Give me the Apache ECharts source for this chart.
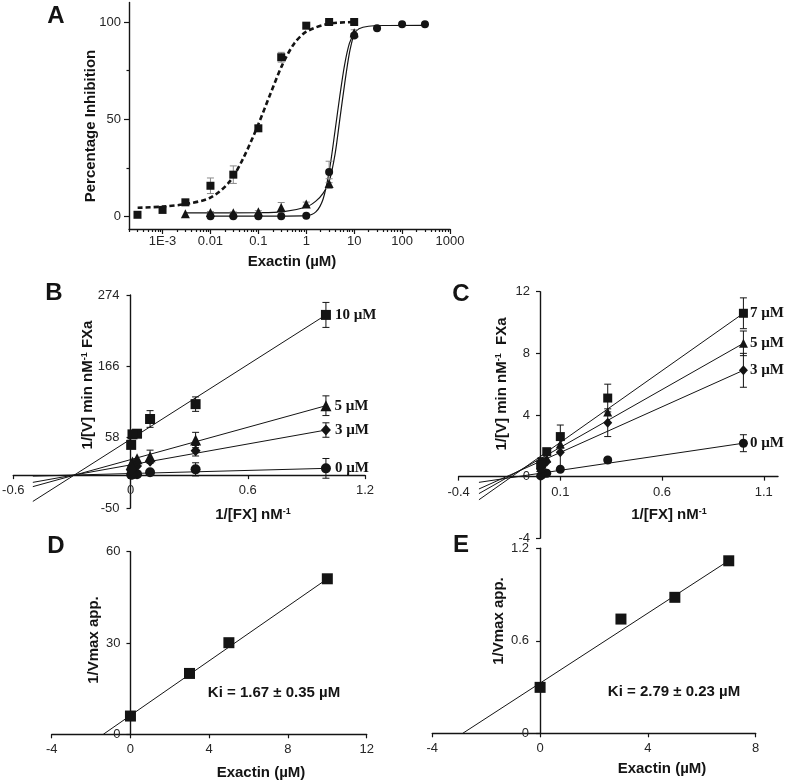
<!DOCTYPE html>
<html><head><meta charset="utf-8">
<script src="https://cdn.jsdelivr.net/npm/echarts@6/dist/echarts.min.js"></script>
<style>html,body{margin:0;padding:0;background:#fff}#c{width:787px;height:783px}</style>
</head><body><div id="c"></div>
<script>
// ---------- Panel A (dose response) ----------
const aSqConc = [0.0003, 0.001, 0.003, 0.01, 0.03, 0.1, 0.3, 1, 3, 10];
const aSqVal  = [1.0, 3.5, 7.4, 15.9, 21.6, 45.4, 81.9, 98.1, 100, 100];
const aSqErr  = [0, 0.6, 0.8, 4.0, 4.5, 1.5, 2.5, 1.0, 0.5, 0.8];
const aTriConc = [0.003, 0.01, 0.03, 0.1, 0.3, 1, 3, 10];
const aTriVal  = [1.5, 2.2, 2.0, 2.5, 4.8, 6.5, 17.0, 94.5];
const aTriErr  = [0, 0.5, 0.5, 0.6, 2.5, 1.0, 2.5, 1.5];
const aCirConc = [0.01, 0.03, 0.1, 0.3, 1, 3, 10, 30, 100, 300];
const aCirVal  = [0.3, 0.3, 0.3, 0.3, 0.5, 23.0, 93.0, 96.8, 98.8, 98.8];
const aCirErr  = [0, 0, 0, 0, 0.4, 5.5, 1.0, 0.5, 0.5, 0.5];
// fitted curves (x as log10 concentration)
const aFitSqLog = [-3.52, -3, -2.5, -2, -1.6, -1.3, -1.0, -0.75, -0.5, -0.25, 0, 0.45, 1.0];
const aFitSqVal = [4.6, 5.2, 6.6, 9.8, 18.0, 30.8, 47.5, 63, 78, 89, 95.0, 99, 100];
const aFitCirLog = [-2, -1, 0, 0.2, 0.35, 0.477, 0.6, 0.7, 0.8, 0.9, 1.0, 1.1, 1.3, 1.6, 2.48];
const aFitCirVal = [0.3, 0.3, 0.6, 2.5, 9, 23, 44, 62, 78, 89, 94, 96.5, 97.8, 98.2, 98.3];
const aFitTriLog = [-2.52, -1, -0.5, 0, 0.2, 0.35, 0.477, 0.6, 0.7, 0.8, 0.9, 1.0];
const aFitTriVal = [2, 2.1, 2.5, 5, 8, 12, 18, 32, 50, 68, 84, 94.5];
const aTickLog = [-3, -2, -1, 0, 1, 2, 3];
const aTickLabels = ['1E-3', '0.01', '0.1', '1', '10', '100', '1000'];
const aYTicks = [0, 50, 100];
const aYMinor = [25, 75];

// ---------- Panel B ----------
const bInvFX = [1, 0.333, 0.1, 0.0333, 0.01, 0.00333];
const b10 = [243.7, 108, 85.4, 63, 62, 46];
const b10Err = [19, 11, 12.7, 0, 0, 0];
const b5 = [105.6, 53.4, 28, 25, 20, 16];
const b5Err = [15, 11.7, 10, 0, 0, 0];
const b3 = [68.6, 37.1, 21, 14, 10, 7];
const b3Err = [11, 8, 0, 0, 0, 0];
const b0 = [10.3, 8.8, 4.3, 1.5, 1, 0.5];
const b0Err = [15, 10, 0, 0, 0, 0];
const bFitX = [-0.5, 1];
const bFit10 = [-40, 243.7];
const bFit5 = [-17.5, 105.6];
const bFit3 = [-11, 68.6];
const bFit0 = [-1.5, 10.3];
const bXTicks = [-0.6, 0, 0.6, 1.2];
const bYTicks = [-50, 58, 166, 274];

// ---------- Panel C ----------
const cInvFX = [1, 0.333, 0.1, 0.0333, 0.01, 0.00333];
const c7 = [10.6, 5.1, 2.6, 1.62, 0.97, 0.76];
const c7Err = [1.0, 0.9, 0.75, 0, 0, 0];
const c5 = [8.65, 4.2, 2.12, 1.19, 0.8, 0.6];
const c5Err = [0.8, 0, 0, 0, 0, 0];
const c3 = [6.9, 3.5, 1.58, 0.97, 0.65, 0.5];
const c3Err = [1.1, 0.9, 1.2, 0, 0, 0];
const c0 = [2.17, 1.08, 0.48, 0.22, 0.12, 0.05];
const c0Err = [0.55, 0.15, 0, 0, 0, 0];
const cFitX = [-0.3, 1];
const cFit7 = [-1.5, 10.6];
const cFit5 = [-1.1, 8.65];
const cFit3 = [-0.8, 6.9];
const cFit0 = [-0.37, 2.17];
const cXTicks = [-0.4, 0.1, 0.6, 1.1];
const cYTicks = [-4, 0, 4, 8, 12];

// ---------- Panel D ----------
const dConc = [0, 3, 5, 10];
const dVal = [6.0, 20.0, 30.1, 51.1];
const dFitX = [-1.38, 10];
const dFitY = [0, 51.1];
const dXTicks = [-4, 0, 4, 8, 12];
const dYTicks = [0, 30, 60];

// ---------- Panel E ----------
const eConc = [0, 3, 5, 7];
const eVal = [0.298, 0.741, 0.882, 1.119];
const eFitX = [-2.87, 7];
const eFitY = [0, 1.12];
const eXTicks = [-4, 0, 4, 8];
const eYTicks = [0, 0.6, 1.2];

// ---------- helpers ----------
const FONT = '"Liberation Sans", Arial, Helvetica, sans-serif';
const SERIF = '"Liberation Serif", "Times New Roman", serif';
const INK = '#141414';
const lg = v => Math.log10(v);

function pts(xs, ys, tx) { return xs.map((x, i) => [tx ? tx(x) : x, ys[i]]); }
function errs(xs, ys, es, tx) {
  const out = [];
  xs.forEach((x, i) => { if (es[i] > 0) out.push([tx ? tx(x) : x, ys[i] - es[i], ys[i] + es[i]]); });
  return out;
}

const gridBoxes = [
  { left: 129, top: 2.5, width: 321, height: 226.5 },
  { left: 13.3, top: 295, width: 351.7, height: 213 },
  { left: 458.6, top: 291.7, width: 319.4, height: 246.6 },
  { left: 51.7, top: 551.7, width: 315, height: 182.6 },
  { left: 432.3, top: 548.3, width: 323.4, height: 185 }
];
const grids = gridBoxes.map(g => Object.assign({ containLabel: false, outerBoundsMode: 'none' }, g));

// axis crossing the other one at zero: shift inward by the zero position
function zeroOffset(min, max, span) { return (min < 0 && max > 0) ? -span * (0 - min) / (max - min) : 0; }

function axis(grid, min, max, ticks, o) {
  o = o || {};
  const a = {
    type: 'value', gridIndex: grid, min: min, max: max,
    position: o.position, offset: o.offset || 0,
    splitLine: { show: false },
    axisLine: { show: o.line !== false, onZero: false, lineStyle: { color: INK, width: 1.4 } },
    axisTick: { show: true, inside: false, length: o.tickLen || 4, customValues: ticks, lineStyle: { color: INK, width: 1.2 } },
    axisLabel: { show: o.labels !== false, customValues: ticks, margin: o.margin != null ? o.margin : 8,
      color: '#262626', fontSize: 13, fontFamily: FONT }
  };
  if (o.formatter) a.axisLabel.formatter = o.formatter;
  return a;
}
function xAx(grid, min, max, ticks, yMin, yMax, o) {
  o = Object.assign({ position: 'bottom' }, o || {});
  if (o.offset == null) o.offset = zeroOffset(yMin, yMax, gridBoxes[grid].height);
  return axis(grid, min, max, ticks, o);
}
function yAx(grid, min, max, ticks, xMin, xMax, o) {
  o = Object.assign({ position: 'left' }, o || {});
  if (o.offset == null) o.offset = zeroOffset(xMin, xMax, gridBoxes[grid].width);
  return axis(grid, min, max, ticks, o);
}
function scatter(xi, yi, data, symbol, size, label, labelDist) {
  const s = { type: 'scatter', xAxisIndex: xi, yAxisIndex: yi, data: data, symbol: symbol, symbolSize: size,
    itemStyle: { color: INK, opacity: 1 }, z: 4, silent: true, clip: false };
  if (label) {
    s.label = { show: true, position: 'right', distance: labelDist, color: INK,
      fontFamily: SERIF, fontWeight: 'bold', fontSize: 15,
      formatter: p => p.dataIndex === 0 ? label : '' };
  }
  return s;
}
function line(xi, yi, data, o) {
  o = o || {};
  return { type: 'line', xAxisIndex: xi, yAxisIndex: yi, data: data, symbol: 'none', showSymbol: false,
    smooth: o.smooth || false, silent: true, z: 2,
    lineStyle: { color: INK, width: o.width || 1, type: o.dash || 'solid' } };
}
function errSeries(xi, yi, data, color, cap) {
  return { type: 'custom', xAxisIndex: xi, yAxisIndex: yi, data: data, silent: true, z: 3,
    encode: { x: 0, y: [1, 2] },
    renderItem: function (params, api) {
      const x = api.value(0), lo = api.value(1), hi = api.value(2);
      const p1 = api.coord([x, hi]), p2 = api.coord([x, lo]);
      const st = { stroke: color, lineWidth: 1, fill: null };
      return { type: 'group', children: [
        { type: 'line', shape: { x1: p1[0], y1: p1[1], x2: p2[0], y2: p2[1] }, style: st },
        { type: 'line', shape: { x1: p1[0] - cap, y1: p1[1], x2: p1[0] + cap, y2: p1[1] }, style: st },
        { type: 'line', shape: { x1: p2[0] - cap, y1: p2[1], x2: p2[0] + cap, y2: p2[1] }, style: st }
      ] };
    } };
}
function txt(x, y, text, size, o) {
  o = o || {};
  const e = { type: 'text', x: x, y: y, silent: true, z: 10,
    style: { text: text, fill: INK, fontFamily: FONT, fontWeight: 'bold', fontSize: size,
      align: 'center', verticalAlign: 'middle' } };
  if (o.rot) e.rotation = Math.PI / 2;
  if (o.rich) e.style.rich = { s: { fontFamily: FONT, fontWeight: 'bold', fontSize: 9, fill: INK, verticalAlign: 'top', lineHeight: 15 },
                              n: { fontFamily: FONT, fontWeight: 'bold', fontSize: 15, fill: INK, lineHeight: 15 } };
  return e;
}

// minor log ticks for panel A
const aMinorLog = [];
for (let k = -4; k <= 2; k++) for (let m = 2; m <= 9; m++) {
  const v = Math.log10(m * Math.pow(10, k));
  if (v > -3.7 && v < 3) aMinorLog.push(v);
}

const xAxes = [
  axis(0, -3.7, 3, aTickLog, { position: 'bottom', margin: 6, tickLen: 5,
    formatter: v => aTickLabels[aTickLog.indexOf(Math.round(v))] }),
  axis(0, -3.7, 3, aMinorLog, { position: 'bottom', line: false, labels: false, tickLen: 3 }),
  xAx(1, -0.6, 1.2, bXTicks, -50, 274, { margin: 9 }),
  xAx(2, -0.4, 1.17, cXTicks, -4, 12, { margin: 9 }),
  xAx(3, -4, 12, dXTicks, 0, 60, { margin: 9 }),
  xAx(4, -4, 8, eXTicks, 0, 1.2, { margin: 9 })
];
const yAxes = [
  axis(0, -6.3, 110, aYTicks, { position: 'left', margin: 8, tickLen: 5 }),
  axis(0, -6.3, 110, aYMinor, { position: 'left', line: false, labels: false, tickLen: 2.5 }),
  yAx(1, -50, 274, bYTicks, -0.6, 1.2, { margin: 11 }),
  yAx(2, -4, 12, cYTicks, -0.4, 1.17, { margin: 10 }),
  yAx(3, 0, 60, dYTicks, -4, 12, { margin: 10 }),
  yAx(4, 0, 1.2, eYTicks, -4, 8, { margin: 11 })
];

const series = [
  // A
  errSeries(0, 0, errs(aSqConc, aSqVal, aSqErr, lg), '#8a8a8a', 3.5),
  errSeries(0, 0, errs(aTriConc, aTriVal, aTriErr, lg), '#8a8a8a', 3.5),
  errSeries(0, 0, errs(aCirConc, aCirVal, aCirErr, lg), '#8a8a8a', 3.5),
  line(0, 0, pts(aFitSqLog, aFitSqVal), { dash: [5, 3], width: 2.6, smooth: 0.3 }),
  line(0, 0, pts(aFitTriLog, aFitTriVal), { width: 1.2, smooth: 0.3 }),
  line(0, 0, pts(aFitCirLog, aFitCirVal), { width: 1.2, smooth: 0.3 }),
  scatter(0, 0, pts(aSqConc, aSqVal, lg), 'rect', 8),
  scatter(0, 0, pts(aTriConc, aTriVal, lg), 'triangle', 9),
  scatter(0, 0, pts(aCirConc, aCirVal, lg), 'circle', 8),
  // B
  line(2, 2, pts(bFitX, bFit10)), line(2, 2, pts(bFitX, bFit5)),
  line(2, 2, pts(bFitX, bFit3)), line(2, 2, pts(bFitX, bFit0)),
  errSeries(2, 2, errs(bInvFX, b10, b10Err), INK, 3.5),
  errSeries(2, 2, errs(bInvFX, b5, b5Err), INK, 3.5),
  errSeries(2, 2, errs(bInvFX, b3, b3Err), INK, 3.5),
  errSeries(2, 2, errs(bInvFX, b0, b0Err), INK, 3.5),
  scatter(2, 2, pts(bInvFX, b0), 'circle', 10, '0 µM', 4),
  scatter(2, 2, pts(bInvFX, b3), 'diamond', [10, 11], '3 µM', 4),
  scatter(2, 2, pts(bInvFX, b5), 'triangle', 11, '5 µM', 3),
  scatter(2, 2, pts(bInvFX, b10), 'rect', 10, '10 µM', 4),
  // C
  line(3, 3, pts(cFitX, cFit7)), line(3, 3, pts(cFitX, cFit5)),
  line(3, 3, pts(cFitX, cFit3)), line(3, 3, pts(cFitX, cFit0)),
  errSeries(3, 3, errs(cInvFX, c7, c7Err), INK, 3.5),
  errSeries(3, 3, errs(cInvFX, c5, c5Err), INK, 3.5),
  errSeries(3, 3, errs(cInvFX, c3, c3Err), INK, 3.5),
  errSeries(3, 3, errs(cInvFX, c0, c0Err), INK, 3.5),
  scatter(3, 3, pts(cInvFX, c0), 'circle', 9, '0 µM', 2),
  scatter(3, 3, pts(cInvFX, c3), 'diamond', [9, 10], '3 µM', 2),
  scatter(3, 3, pts(cInvFX, c5), 'triangle', 9, '5 µM', 2),
  scatter(3, 3, pts(cInvFX, c7), 'rect', 9, '7 µM', 2),
  // D
  line(4, 4, pts(dFitX, dFitY)),
  scatter(4, 4, pts(dConc, dVal), 'rect', 11),
  // E
  line(5, 5, pts(eFitX, eFitY)),
  scatter(5, 5, pts(eConc, eVal), 'rect', 11)
];

const graphic = [
  txt(56, 16, 'A', 24), txt(54, 293, 'B', 24), txt(461, 294, 'C', 24),
  txt(56, 546, 'D', 24), txt(461, 545, 'E', 24),
  txt(91, 126, 'Percentage Inhibition', 15, { rot: true }),
  txt(292, 261.5, 'Exactin (µM)', 15),
  txt(87.5, 385, '{n|1/[V] min nM}{s|-1}{n| FXa}', 15, { rot: true, rich: true }),
  txt(253, 515, '{n|1/[FX] nM}{s|-1}', 15, { rich: true }),
  txt(501.5, 384, '{n|1/[V] min nM}{s|-1}{n|  FXa}', 15, { rot: true, rich: true }),
  txt(669, 515, '{n|1/[FX] nM}{s|-1}', 15, { rich: true }),
  txt(94, 640, '1/Vmax app.', 15, { rot: true }),
  txt(261, 773, 'Exactin (µM)', 15),
  txt(499, 621, '1/Vmax app.', 15, { rot: true }),
  txt(662, 769, 'Exactin (µM)', 15),
  txt(274, 693, 'Ki = 1.67 ± 0.35 µM', 15),
  txt(674, 692, 'Ki = 2.79 ± 0.23 µM', 15)
];

const chart = echarts.init(document.getElementById('c'), null, { renderer: 'canvas' });
chart.setOption({
  animation: false,
  backgroundColor: '#ffffff',
  textStyle: { fontFamily: FONT },
  grid: grids,
  xAxis: xAxes,
  yAxis: yAxes,
  series: series,
  graphic: graphic
});
</script></body></html>
